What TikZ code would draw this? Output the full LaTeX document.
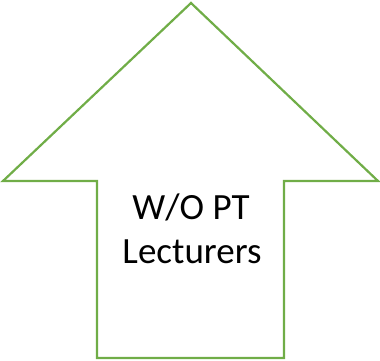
\documentclass[tikz,border=0pt]{standalone}
\usepackage{fontspec}
\setmainfont{Carlito}
\definecolor{arrowgreen}{HTML}{70AD47}
\tikzset{
  arrowoutline/.style={draw=arrowgreen, line width=2.2pt, line join=miter, fill=white},
  label/.style={font=\fontsize{37}{44}\selectfont, align=center, text=black, inner sep=0pt}
}
\begin{document}
\begin{tikzpicture}[x=1pt, y=-1pt]
  \useasboundingbox (0,0) rectangle (380,361);
  % block arrow pointing up
  \draw[arrowoutline] (191,3) -- (378,181) -- (284,181) -- (284,358)
    -- (97,358) -- (97,181) -- (3,181) -- cycle;
  \node[label, anchor=base] (line1) at (191,219) {W/O PT};
  \node[label, anchor=base] (line2) at (192,263) {Lecturers};
\end{tikzpicture}
\end{document}
